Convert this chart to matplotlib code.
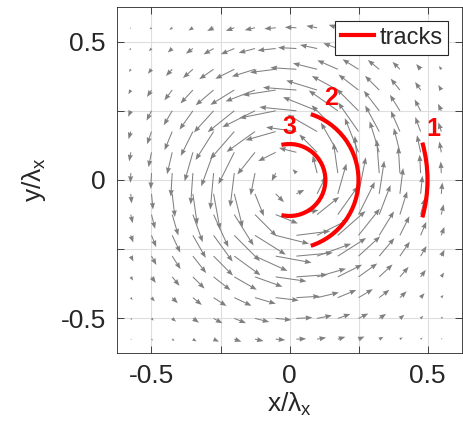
import numpy as np
import matplotlib
matplotlib.use('Agg')
import matplotlib.pyplot as plt
from matplotlib.patches import Arc
from matplotlib.lines import Line2D

plt.rcParams['font.family'] = ['Liberation Sans', 'DejaVu Sans']
plt.rcParams['mathtext.fontset'] = 'custom'
plt.rcParams['mathtext.rm'] = 'Liberation Sans'

# quiver grid positions (x/lambda_x, y/lambda_x)
grid_pos = [-0.575, -0.5, -0.425, -0.35, -0.275, -0.2, -0.125, -0.05,
            0.025, 0.1, 0.175, 0.25, 0.325, 0.4, 0.475, 0.55]

# azimuthal speed of the vortex (arrow length) read against radius
profile_r = [0.0, 0.05, 0.1, 0.15, 0.2, 0.25, 0.3, 0.35, 0.4, 0.45,
             0.5, 0.55, 0.6, 0.65, 0.7, 0.8, 0.9]
profile_speed = [0.0, 0.028, 0.063, 0.097, 0.123, 0.135, 0.13, 0.114, 0.095,
                 0.076, 0.058, 0.042, 0.029, 0.019, 0.012, 0.005, 0.002]

# particle tracks: radius and half angle (deg) of each arc
track_names = ['1', '2', '3']
track_radius = [0.5, 0.25, 0.13]
track_half_angle = [15.7, 72, 103]
label_x = [0.522, 0.15, 0.0]
label_y = [0.183, 0.295, 0.192]

fig = plt.figure(figsize=(4.63, 4.46), dpi=100)
ax = fig.add_axes([117 / 463, 1 - 353 / 446, 345 / 463, 346 / 446])

# velocity field
X, Y = np.meshgrid(grid_pos, grid_pos)
R = np.hypot(X, Y)
speed = np.interp(R, profile_r, profile_speed)
U = -speed * Y / R
V = speed * X / R
ax.quiver(X, Y, U, V, angles='xy', scale_units='xy', scale=1,
          color='0.5', width=0.003, headwidth=5, headlength=6.5,
          headaxislength=6, zorder=2)

# tracks
for name, r, a, lx, ly in zip(track_names, track_radius, track_half_angle,
                              label_x, label_y):
    ax.add_patch(Arc((0, 0), 2 * r, 2 * r, theta1=-a, theta2=a,
                     color='red', lw=3, zorder=3))
    ax.text(lx, ly, name, color='red', fontsize=18, fontweight='bold',
            ha='center', va='center', zorder=4)

handle = Line2D([], [], color='red', lw=3)
leg = ax.legend([handle], ['tracks'], loc='upper right',
                bbox_to_anchor=(0.96, 0.96), borderaxespad=0,
                fontsize=17, fancybox=False, framealpha=1,
                handlelength=1.4, handletextpad=0.2, borderpad=0.25)
leg.get_frame().set_edgecolor('0.15')
leg.get_frame().set_linewidth(0.8)
for t in leg.get_texts():
    t.set_color('0.15')

ax.set_xlim(-0.625, 0.625)
ax.set_ylim(-0.625, 0.625)
ticks = [-0.5, -0.25, 0, 0.25, 0.5]
tick_labels = ['-0.5', '', '0', '', '0.5']
ax.set_xticks(ticks)
ax.set_xticklabels(tick_labels)
ax.set_yticks(ticks)
ax.set_yticklabels(tick_labels)
ax.tick_params(direction='in', length=5, width=0.6, labelsize=19,
               colors='0.15', pad=8, top=True, right=True)
ax.grid(True, color='#dedede', lw=0.8, zorder=0)
ax.set_axisbelow(True)
for s in ax.spines.values():
    s.set_color('0.15')
    s.set_linewidth(0.6)

ax.set_xlabel(r'$\mathregular{x/\lambda_x}$', fontsize=19, color='0.15',
              labelpad=2)
ax.set_ylabel(r'$\mathregular{y/\lambda_x}$', fontsize=19, color='0.15',
              labelpad=9)

fig.savefig('out.png', dpi=100)
